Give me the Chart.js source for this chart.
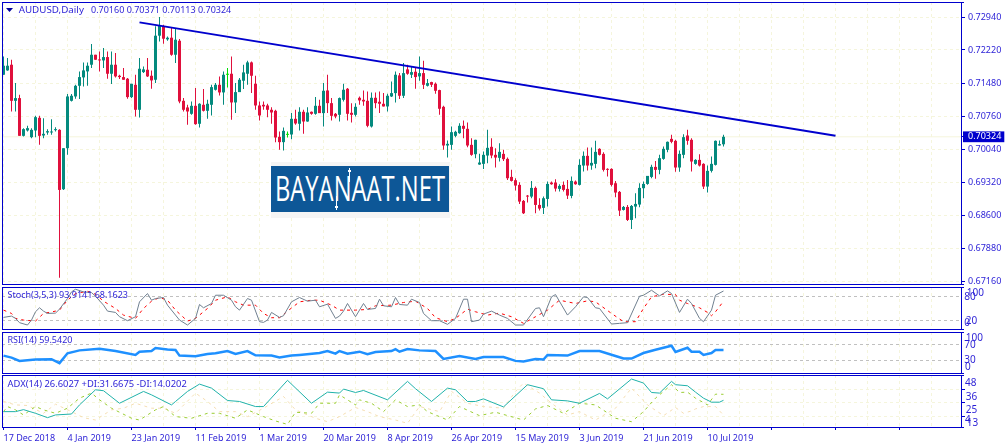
<!DOCTYPE html>
<html><head><meta charset="utf-8">
<script src="https://cdn.jsdelivr.net/npm/chart.js@4/dist/chart.umd.min.js"></script>
<style>
html,body{margin:0;padding:0;background:#fff;overflow:hidden;width:1007px;height:448px}
canvas{position:absolute;left:0}
#logoOuter{position:absolute;left:271px;top:162px;width:179px;height:56px;background:#f5f5f5}
#logoBox{position:absolute;left:271px;top:166px;width:178px;height:46px;background:#0d5797;overflow:hidden}
#logoText{position:absolute;left:4px;top:2px;font:400 35px/40px "Open Sans",sans-serif;color:#fff;white-space:nowrap;transform-origin:0 0}
.stem{position:absolute;background:#fff;width:1px}
</style></head><body>
<canvas id="cMain" style="top:0"></canvas>
<canvas id="cStoch" style="top:285px"></canvas>
<canvas id="cRsi" style="top:330px"></canvas>
<canvas id="cAdx" style="top:373px"></canvas>
<div id="logoOuter"></div>
<div id="logoBox"><span id="logoText">BAYANAAT.NET</span><div class="stem" style="left:65px;top:30px;height:14px"></div><div class="stem" style="left:64px;top:40px;width:3px;height:2px"></div><div class="stem" style="left:78px;top:2px;height:14px"></div><div class="stem" style="left:77px;top:4px;width:3px;height:2px"></div></div>
<script>
const opens=[.71679,.71774,.71898,.71110,.71169,.70345,.70462,.70316,.70462,.70739,
.70352,.70418,.70418,.70469,.70476,.69179,.70075,.71110,.71205,.71438,
.71621,.71752,.71898,.72116,.72007,.71992,.72065,.71701,.71898,.71657,
.71628,.71592,.71191,.71460,.70914,.71737,.71788,.71657,.71570,.72532,
.72736,.72452,.72488,.72116,.72422,.71110,.70965,.70826,.71001,.70608,
.71023,.70892,.71023,.71351,.71460,.71293,.71679,.71701,.71074,.71300,
.71548,.71701,.71949,.71482,.71008,.71023,.71008,.70914,.70892,.70323,
.70207,.70367,.70374,.70717,.70608,.70870,.70658,.70870,.70826,.71001,
.70841,.71336,.71059,.70826,.70804,.71132,.71373,.70848,.70804,.71176,
.71132,.71110,.70549,.71176,.71089,.71045,.70987,.71205,.71278,.71664,
.71220,.71796,.71679,.71745,.71643,.71715,.71438,.71519,.71482,.71344,
.70979,.70134,.70148,.70345,.70403,.70564,.70498,.70148,.69944,.69718,
.69733,.69915,.70105,.69930,.69864,.69951,.69842,.69448,.69376,.69274,
.68924,.69033,.69018,.69208,.68836,.68771,.68967,.69325,.69325,.69186,
.69274,.69186,.69033,.69346,.69274,.69696,.69908,.69696,.69733,.70061,
.69951,.69616,.69623,.69310,.69121,.68727,.68792,.68508,.68800,.68844,
.69201,.69295,.69448,.69667,.69602,.69842,.70039,.70279,.70236,.69653,
.69930,.70352,.70258,.69733,.69820,.69733,.69237,.69580,.69711,.70134,.70160];
const highs=[.72080,.72043,.72007,.71497,.71242,.70513,.70564,.70513,.70782,.70782,
.70731,.70491,.70709,.70535,.70491,.70075,.71256,.71256,.71460,.71752,
.71949,.71949,.72350,.72116,.72189,.72262,.72189,.72189,.72153,.71679,
.71825,.71606,.71482,.71679,.72043,.71861,.72043,.71774,.72736,.72940,
.72772,.72517,.72699,.72678,.72459,.71169,.71023,.71096,.71387,.71059,
.71366,.71132,.71460,.71497,.71643,.71752,.71825,.72080,.71497,.71606,
.71898,.71985,.71971,.71657,.71096,.71096,.71045,.70972,.70914,.70440,
.70527,.70440,.70841,.70914,.70972,.70914,.70972,.70877,.71191,.71132,
.71497,.71679,.71169,.70841,.71183,.71482,.71387,.71059,.71059,.71205,
.71336,.71315,.71293,.71293,.71315,.71278,.71263,.71533,.71752,.71715,
.71934,.71898,.71861,.71825,.72080,.71985,.71584,.71526,.71511,.71351,
.71001,.70243,.70549,.70454,.70622,.70680,.70637,.70294,.70258,.69951,
.70003,.70476,.70294,.70075,.70185,.70039,.69871,.69602,.69419,.69332,
.68946,.69055,.69361,.69237,.68982,.69018,.69346,.69346,.69397,.69288,
.69346,.69383,.69456,.69368,.69835,.70003,.70090,.70090,.70236,.70075,
.69988,.69638,.69638,.69361,.69142,.68814,.68836,.68836,.69091,.69310,
.69346,.69470,.69711,.69798,.69930,.70112,.70221,.70367,.70258,.70024,
.70382,.70476,.70294,.69835,.69944,.69747,.69696,.69893,.70243,.70243,.70371];
const lows=[.71679,.71766,.70877,.70877,.70345,.70330,.70440,.70294,.70316,.70148,
.70294,.70367,.70367,.70440,.67247,.69164,.69930,.71096,.71154,.71147,
.71424,.71438,.71825,.72007,.71752,.71825,.71591,.71475,.71621,.71584,
.71570,.71154,.71169,.70768,.70746,.71715,.71628,.71373,.71497,.72408,
.72357,.72422,.72094,.71934,.71059,.70877,.70586,.70804,.70586,.70527,
.70877,.70717,.70790,.71336,.71227,.71023,.71402,.70695,.70841,.71300,
.71366,.71460,.71278,.70914,.70680,.70914,.70753,.70607,.70207,.70039,
.70024,.70309,.70272,.70586,.70462,.70389,.70651,.70804,.70804,.70841,
.70549,.70841,.70680,.70731,.70658,.71096,.70680,.70637,.70768,.71023,
.71001,.70535,.70527,.70950,.70841,.70987,.70877,.71191,.71074,.71147,
.71169,.71679,.71606,.71373,.71548,.71366,.71424,.71409,.71263,.70804,
.70039,.69871,.70039,.70316,.70389,.70294,.70097,.69908,.69857,.69711,
.69623,.69747,.69857,.69653,.69784,.69798,.69383,.69346,.69150,.68858,
.68639,.68887,.68982,.68654,.68712,.68639,.68800,.69274,.69128,.69128,
.69128,.68967,.68982,.69274,.69259,.69565,.69587,.69602,.69638,.69915,
.69565,.69456,.69237,.69004,.68596,.68712,.68486,.68311,.68545,.68785,
.68982,.69274,.69419,.69405,.69507,.69820,.69988,.70185,.69558,.69558,
.69857,.70148,.69565,.69711,.69675,.69186,.69106,.69543,.69696,.70134,.70113];
const closes=[.71876,.71876,.71110,.71169,.70345,.70491,.70513,.70476,.70753,.70345,
.70389,.70447,.70440,.70491,.69164,.70075,.71205,.71220,.71438,.71628,
.71774,.71876,.72116,.72007,.71992,.72065,.71701,.71898,.71643,.71628,
.71570,.71191,.71482,.70914,.71810,.71796,.71643,.71555,.72532,.72750,
.72466,.72488,.72116,.72444,.71096,.70914,.70877,.71001,.70600,.71045,
.70892,.71045,.71409,.71460,.71293,.71679,.71694,.71074,.71300,.71570,
.71730,.71949,.71657,.71008,.70790,.70987,.70914,.70855,.70309,.70207,
.70454,.70382,.70717,.70615,.70870,.70658,.70855,.70826,.71001,.70841,
.71329,.71059,.70782,.70768,.71169,.71351,.70826,.70804,.70979,.71118,
.71096,.70564,.71176,.71059,.71045,.70987,.71220,.71278,.71679,.71220,
.71715,.71701,.71737,.71628,.71715,.71460,.71497,.71460,.71329,.70936,
.70134,.70170,.70425,.70433,.70564,.70498,.70134,.69930,.70258,.69762,
.69930,.70083,.69915,.69871,.69995,.69835,.69419,.69361,.69259,.68909,
.68654,.69018,.69208,.68836,.68756,.68982,.69295,.69288,.69193,.69252,
.69164,.69040,.69361,.69288,.69711,.69908,.69696,.69755,.69995,.69930,
.69602,.69602,.69274,.69106,.68712,.68792,.68508,.68814,.68858,.69208,
.69295,.69470,.69667,.69602,.69857,.70061,.70214,.70214,.69653,.69951,
.70316,.70236,.69784,.69820,.69696,.69237,.69580,.69733,.70236,.70163,.70324];
const dojiBars=[56,71];
const lastPrice=0.70324;
const trendBars=[34,208];
const trendPrices=[0.72823,0.70345];
const priceTicks=[0.72940,0.72220,0.71480,0.70760,0.70040,0.69320,0.68600,0.67880,0.67160];
const dateLabels=["17 Dec 2018","4 Jan 2019","23 Jan 2019","11 Feb 2019","1 Mar 2019","20 Mar 2019","8 Apr 2019","26 Apr 2019","15 May 2019","3 Jun 2019","21 Jun 2019","10 Jul 2019"];

const stochMainBars=[0,2,3,4,6,7,8,9,10,11,13,14,16,17,18,20,22,23,25,26,28,29,31,33,34,36,37,38,40,41,43,44,46,48,49,50,52,53,55,57,58,59,61,62,64,65,66,67,69,70,72,74,76,78,79,81,83,84,85,86,88,90,91,93,94,95,97,98,99,101,102,104,105,107,109,111,113,115,116,117,119,120,122,124,126,128,130,133,134,135,137,138,141,143,145,146,148,149,152,154,156,159,160,162,164,166,167,169,171,172,174,175,177,178,180];
const stochMainValues=[27.5,30.8,25,14.2,8.3,20.8,41.7,51.7,43.3,37.5,38.3,48.3,75,91.7,98.3,91.7,90,80.8,58.3,43.3,40,29.2,19.2,29.2,66.7,87.5,70.8,75,77.5,58.3,33.3,20.8,8.3,25,60,51.7,62.5,83.3,83.3,70.8,54.2,45.8,75,70.8,16.7,15,20.8,40,27.5,31.7,66.7,77.5,68.3,70.8,54.2,60.8,25,30.8,43.3,62.5,29.2,62.5,47.5,50,73.3,56.7,54.2,77.5,60,58.3,73.3,65,37.5,19.2,19.2,10,25,73.3,73.3,16.7,20.8,35.8,43.3,33.3,25,8.3,8.3,50,51.7,29.2,79.2,85,33.3,54.2,79.2,77.5,51.7,50,10.8,12.5,14.2,80.8,83.3,95.8,81.7,94.2,87.5,40,73.3,62.5,25,16.7,45.8,83.3,93.91];
const stochSignalBars=[0,2,3,5,8,10,13,14,16,18,21,23,25,28,30,33,35,37,39,41,43,46,48,51,53,56,58,60,63,65,67,69,71,74,77,79,82,84,88,91,93,97,100,103,106,108,111,113,116,118,121,124,127,130,133,136,139,143,146,148,152,155,158,160,162,165,168,169,171,174,176,177,178,180];
const stochSignalValues=[45.8,37.5,25,20.8,18.3,37.5,43.3,45.8,70.8,87.5,93.3,85.8,68.3,50,33.3,25,50,68.3,77.5,70.8,45.8,18.3,25,50,70.8,79.2,66.7,58.3,58.3,37.5,26.7,26.7,43.3,66.7,70.8,70.8,58.3,45.8,45.8,47.5,56.7,58.3,65,68.3,50,26.7,16.7,25,48.3,41.7,33.3,38.3,29.2,12.5,29.2,45.8,70.8,62.5,69.2,66.7,37.5,16.7,16.7,50,79.2,85.8,85,70.8,62.5,51.7,40,31.7,41.7,68.16];
const rsiBars=[0,2,4,8,12,14,16,19,24,28,33,34,37,38,41,43,44,48,51,53,56,58,61,63,67,69,72,74,79,81,83,84,86,89,91,93,97,98,99,101,104,108,110,114,118,120,125,128,130,133,135,136,141,144,149,153,155,157,160,163,167,168,171,172,174,175,177,178,180];
const rsiValues=[41.7,36.7,28.3,31.7,32.5,22.5,47.5,55,59.2,53.3,43.3,51.7,53.3,60.8,57.5,55.8,41.7,40,45.8,47.5,53.3,45.8,53.3,42.5,41.7,36.7,41.7,43.3,48.3,53.3,46.7,53.3,46.7,51.7,45,50.8,53.3,58.3,51.7,58.3,55,53.3,33.3,40.8,33.3,38.3,38.3,28.3,26.7,33.3,31.7,43.3,41.7,53.3,53.3,40.8,34.2,34.2,48.3,56.7,66.7,50.8,61.7,51.7,51.7,43.3,48.3,56,56];
const adxBars=[0,3,5,8,11,13,17,19,23,25,29,35,37,42,43,46,49,52,56,59,63,65,71,77,81,84,85,88,90,96,101,103,107,111,113,116,118,120,125,131,135,137,141,144,149,151,157,160,162,164,167,168,171,173,175,177,179,180];
const adxValues=[17,17,18.7,15.6,11.9,14.2,15,22.7,35.5,34.7,24.1,34.1,31.2,22.7,25.6,34.1,40.3,36.9,26.4,25.6,21.3,21.3,43.5,24.1,33.5,32.7,36.1,33.2,34.9,27,42.6,36.4,25.6,36.9,35.5,25.6,25.6,27.8,21,39.8,36.4,27,26.1,24.1,32.4,27.8,44.6,41.2,33.2,32.7,42.6,39.8,38.9,33.5,28.4,25,25,26.6];
const plusDiBars=[0,1,3,5,8,10,13,16,19,22,24,27,32,34,38,40,43,47,51,54,58,61,65,68,71,73,77,79,83,84,88,89,92,95,98,101,104,106,111,114,119,123,130,133,136,140,144,148,153,157,160,163,167,169,171,173,176,178,180];
const plusDiValues=[17,21.3,18.5,14.2,21.3,18.5,15.6,19.9,28.4,32.7,27,19.9,11.4,9.9,18.5,21.3,12.8,11.4,15.6,15.6,11.4,18.5,12.8,9.1,6.2,16.5,15.6,24.1,24.1,31.2,22.7,27,24.1,17,27,21.3,22.7,17,9.9,21.3,13.6,16.5,9.9,19.3,22.2,15.6,24.1,22.7,11.4,8.5,17,28.4,39.8,33.2,33.5,28.4,22.7,31.8,31.67];
const minusDiBars=[0,3,6,10,13,17,20,23,27,30,33,37,40,43,48,51,54,58,61,65,70,73,78,81,84,88,91,94,98,101,104,109,112,116,120,125,128,130,134,137,141,144,148,153,157,161,165,168,170,172,173,175,178,180];
const minusDiValues=[25.6,22.7,22.2,15.6,23.3,17,11.9,9.9,18.5,19.9,24.1,19.9,19.9,15.6,32.7,25.6,17,17,12.8,19.9,29.8,18.5,11.4,8.5,12.8,20.5,17,12.8,9.9,7.1,21.3,17,34.1,24.1,21.3,19.9,34.1,41.2,32.7,24.1,14.2,17,9.9,19.9,36.9,22.7,13.6,20.5,15.6,17.6,19.3,21.3,21.3,14.02];
const stochLevels=[20,80];
const rsiLevels=[30,70];
const adxLevels=[13,25,36];

const BLUE='#0000cd',TXT='#2a1fd6',GRID='#f5f5dc',LEVEL='#c0c0c0',TEAL='#048a7e',RED='#e0103c',DOJI='#00e000';
const FONT='"Noto Sans"';
const FS=9;
const XMIN=-0.375,XMAX=239.625;
Chart.defaults.font.family=FONT;
Chart.defaults.font.size=FS;
Chart.defaults.animation=false;

function series(bars,vals){return bars.map((b,i)=>({x:b,y:vals[i]}));}
const xGridBars=[];for(let b=0;b<=232;b+=8)xGridBars.push(b);

function sizeCanvas(id,h){const c=document.getElementById(id);c.width=1007;c.height=h;c.style.width='1007px';c.style.height=h+'px';return c;}

function framePlugin(){return{id:'frame',afterDatasetsDraw(ch){
  const a=ch.chartArea,c=ch.ctx;c.save();c.strokeStyle=BLUE;c.lineWidth=1;
  c.strokeRect(a.left+.5,a.top+.5,a.right-a.left-1,a.bottom-a.top);
  c.beginPath();c.moveTo(a.right,a.top+.5);c.lineTo(a.right+2,a.top+.5);c.moveTo(a.right,a.bottom+.5);c.lineTo(a.right+2,a.bottom+.5);c.stroke();
  c.restore();}};}

function textPlugin(items){return{id:'paneText',afterDraw(ch){
  const c=ch.ctx;c.save();c.fillStyle=TXT;c.textBaseline='middle';c.textAlign='left';
  items.forEach(t=>{c.font=(t.size||FS)+'px '+FONT;c.fillText(t.text,t.x,t.y);});c.restore();}};}

function xScale(showLabels){return{
  type:'linear',min:XMIN,max:XMAX,offset:false,
  afterBuildTicks(s){s.ticks=xGridBars.map(v=>({value:v}));},
  afterFit(s){s.height=showLabels?21:0;s.paddingLeft=0;s.paddingRight=0;},
  border:{display:false,dash:[3,3]},
  grid:{offset:false,color:GRID,lineWidth:1,drawTicks:showLabels,tickLength:3,
    tickColor:c=>(c.tick&&c.tick.value%16===0)?BLUE:'rgba(0,0,0,0)',tickBorderDash:[]},
  ticks:{display:showLabels,autoSkip:false,maxRotation:0,minRotation:0,align:'start',padding:3,color:TXT,font:{size:FS,family:FONT},
    callback:v=>(v%16===0&&dateLabels[v/16])?dateLabels[v/16]:''}
};}

function yScale(min,max,levels,gridColor,tickColor,extra){return Object.assign({
  position:'right',min,max,
  afterBuildTicks(s){s.ticks=levels.map(v=>({value:v}));},
  afterFit(s){s.width=45;s.paddingTop=0;s.paddingBottom=0;},
  border:{display:false,dash:[3,3]},
  grid:{color:gridColor,lineWidth:1,tickColor,tickLength:3,tickBorderDash:[]},
  ticks:{display:false}
},extra||{});}

function lineDs(data,color,width,dash,order){return{type:'line',data,borderColor:color,borderWidth:width,borderDash:dash||[],pointRadius:0,tension:0,fill:false,order};}

function pane(id,h,padTop,padBottom,datasets,scales,plugins){
  const c=sizeCanvas(id,h);
  return new Chart(c,{type:'bar',data:{datasets},plugins,options:{
    responsive:false,devicePixelRatio:1,animation:false,events:[],
    layout:{padding:{left:2,right:0,top:padTop,bottom:padBottom}},
    plugins:{legend:{display:false},tooltip:{enabled:false},title:{display:false}},
    scales}});
}

/* main pane */
const bars=opens.map((_,i)=>i);
const candleColor=bars.map(i=>dojiBars.includes(i)?DOJI:(closes[i]>=opens[i]?TEAL:RED));
const mainTicks=priceTicks.concat([lastPrice]);
const legendTriangle={id:'tri',afterDraw(ch){const c=ch.ctx;c.save();c.fillStyle='#00009a';c.beginPath();c.moveTo(6,8);c.lineTo(13,8);c.lineTo(9.5,12);c.closePath();c.fill();c.restore();}};
pane('cMain',286,2,2,[
  lineDs(trendBars.map((b,i)=>({x:b,y:trendPrices[i]})),BLUE,2,[],0),
  {type:'bar',grouped:false,data:bars.map(i=>({x:i,y:[Math.min(opens[i],closes[i]),Math.max(opens[i],closes[i])]})),backgroundColor:candleColor,barThickness:3,maxBarThickness:3,minBarLength:1,inflateAmount:0,order:1},
  {type:'bar',grouped:false,data:bars.map(i=>({x:i,y:[lows[i],highs[i]]})),backgroundColor:candleColor,barThickness:1,maxBarThickness:1,inflateAmount:0,order:2},
  lineDs([{x:XMIN,y:lastPrice},{x:XMAX,y:lastPrice}],'#f5f5dc',1,[],3)
],{
  x:xScale(false),
  y:yScale(0.67109,0.73268,mainTicks,c=>(c.tick&&c.tick.value===lastPrice)?'rgba(0,0,0,0)':GRID,BLUE,{
    ticks:{display:true,autoSkip:false,padding:3,color:c=>(c.tick&&c.tick.value===lastPrice)?'#fff':TXT,font:{size:FS,family:FONT},
      showLabelBackdrop:c=>!!(c.tick&&c.tick.value===lastPrice),
      backdropColor:BLUE,backdropPadding:{left:5,right:3,top:0,bottom:0},
      callback:v=>v.toFixed(5)}
  })
},[framePlugin(),legendTriangle,textPlugin([{text:'AUDUSD,Daily',x:18.7,y:10.5,size:9.8},{text:'0.70160 0.70371 0.70113 0.70324',x:91,y:10.5}])]);

/* Stoch */
pane('cStoch',46,2,2,[
  lineDs(series(stochMainBars,stochMainValues),'#708090',1,[],0),
  lineDs(series(stochSignalBars,stochSignalValues),'#ff0000',1,[3,4],1)
],{x:xScale(false),y:yScale(-1.7,104,stochLevels,LEVEL,'rgba(0,0,0,0)')},
[framePlugin(),textPlugin([
 {text:'Stoch(3,5,3) 93.9141 68.1623',x:7.5,y:10.5},
 {text:'100',x:966.7,y:8.3,size:10},{text:'80',x:964.3,y:11.7,size:10},{text:'20',x:965.7,y:35.7,size:10},{text:'0',x:964.3,y:37.7,size:10}])]);

/* RSI */
pane('cRsi',45,2,2,[
  lineDs(series(rsiBars,rsiValues),'#1e90ff',2.5,[],0)
],{x:xScale(false),y:yScale(-2.5,101.7,rsiLevels,LEVEL,'rgba(0,0,0,0)')},
[framePlugin(),textPlugin([
 {text:'RSI(14) 59.5420',x:7.5,y:10},
 {text:'100',x:965.7,y:8.3,size:10},{text:'70',x:964.3,y:15,size:10},{text:'30',x:964.3,y:30.3,size:10},{text:'0',x:965,y:36.7,size:10}])]);

/* ADX */
pane('cAdx',75,2,0,[
  lineDs(series(adxBars,adxValues),'#20b2aa',1,[],0),
  lineDs(series(plusDiBars,plusDiValues),'#9acd32',1,[3,4],1),
  lineDs(series(minusDiBars,minusDiValues),'#f5deb3',1,[3,4],2)
],{x:xScale(true),y:yScale(4,48,adxLevels,GRID,BLUE)},
[framePlugin(),textPlugin([
 {text:'ADX(14) 26.6027 +DI:31.6675 -DI:14.0202',x:7.5,y:11.5,size:9.4},
 {text:'48',x:965,y:9.7,size:10},{text:'36',x:965.7,y:24.3,size:10},{text:'25',x:965.7,y:36.7,size:10},{text:'13',x:966.7,y:49.7,size:10},{text:'4',x:965,y:47,size:10}])]);

/* watermark */
const lt=document.getElementById('logoText');
lt.style.transform='scaleX('+(170/lt.getBoundingClientRect().width)+')';
</script></body></html>
